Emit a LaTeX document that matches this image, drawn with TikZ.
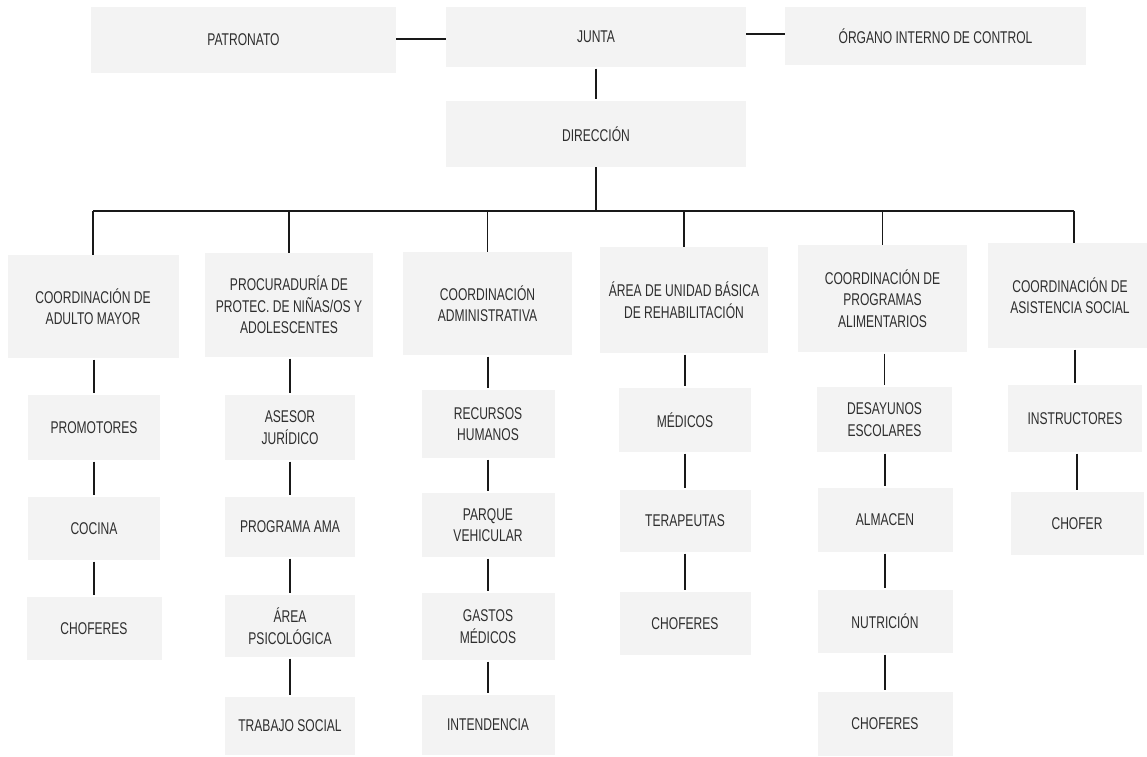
\documentclass[tikz,border=0pt]{standalone}
\usepackage{fontspec}
\setmainfont{Liberation Sans}[FakeStretch=0.71]
\begin{document}
\begin{tikzpicture}[x=1pt,y=-1pt,
  box/.style={draw=none,fill=boxgray,text=txtgray,align=center,inner sep=0pt,
    font=\fontsize{17}{21.5}\selectfont},
  link/.style={line width=1.8pt,draw=black!90,shorten <=1.5pt,shorten >=1.5pt},
  bus/.style={line width=1.8pt,draw=black!90}]
\definecolor{boxgray}{HTML}{F3F3F3}
\definecolor{txtgray}{HTML}{2E2E2E}
\useasboundingbox[fill=white] (0,0) rectangle (1147,756);
% top
\node[box,minimum width=305,minimum height=66] (patronato) at (243.5,40) {PATRONATO};
\node[box,minimum width=300,minimum height=60] (junta) at (596,37) {JUNTA};
\node[box,minimum width=301,minimum height=58] (organo) at (935.5,36) {ÓRGANO INTERNO DE CONTROL};
\node[box,minimum width=300,minimum height=66] (direccion) at (596,134) {DIRECCIÓN};
\draw[bus] (patronato.east |- 0,39) -- (junta.west |- 0,39);
\draw[bus] (junta.east |- 0,34) -- (organo.west |- 0,34);
\draw[link] (junta.south) -- (direccion.north);
% bus
\coordinate (busL) at (93,211);
\coordinate (busR) at (1074,211);
\draw[bus] (direccion.south) -- (direccion.south |- busL);
\draw[bus] (busL) -- (busR);
% column 1
\node[box,minimum width=171,minimum height=103] (c1) at (93,306.5) {COORDINACIÓN DE\\ADULTO MAYOR};
\node[box,minimum width=132,minimum height=65] (c1a) at (94,427.5) {PROMOTORES};
\node[box,minimum width=132,minimum height=63] (c1b) at (94,528.5) {COCINA};
\node[box,minimum width=135,minimum height=63] (c1c) at (94,628.5) {CHOFERES};
% column 2
\node[box,minimum width=168,minimum height=104] (c2) at (289,305) {PROCURADURÍA DE\\PROTEC. DE NIÑAS/OS Y\\ADOLESCENTES};
\node[box,minimum width=130,minimum height=65] (c2a) at (290,427.5) {ASESOR\\JURÍDICO};
\node[box,minimum width=130,minimum height=60] (c2b) at (290,527) {PROGRAMA AMA};
\node[box,minimum width=130,minimum height=62] (c2c) at (290,626) {ÁREA\\PSICOLÓGICA};
\node[box,minimum width=130,minimum height=58] (c2d) at (290,726) {TRABAJO SOCIAL};
% column 3
\node[box,minimum width=169,minimum height=103] (c3) at (487.5,303.5) {COORDINACIÓN\\ADMINISTRATIVA};
\node[box,minimum width=133,minimum height=68] (c3a) at (488,424) {RECURSOS\\HUMANOS};
\node[box,minimum width=133,minimum height=64] (c3b) at (488,525) {PARQUE\\VEHICULAR};
\node[box,minimum width=133,minimum height=67] (c3c) at (488,626.5) {GASTOS\\MÉDICOS};
\node[box,minimum width=133,minimum height=60] (c3d) at (488,725) {INTENDENCIA};
% column 4
\node[box,minimum width=168,minimum height=106] (c4) at (684,300) {ÁREA DE UNIDAD BÁSICA\\DE REHABILITACIÓN};
\node[box,minimum width=132,minimum height=64] (c4a) at (685,420) {MÉDICOS};
\node[box,minimum width=131,minimum height=62] (c4b) at (685,521) {TERAPEUTAS};
\node[box,minimum width=131,minimum height=63] (c4c) at (685,623.5) {CHOFERES};
% column 5
\node[box,minimum width=169,minimum height=107] (c5) at (882.5,298.5) {COORDINACIÓN DE\\PROGRAMAS\\ALIMENTARIOS};
\node[box,minimum width=135,minimum height=65] (c5a) at (884.5,419.5) {DESAYUNOS\\ESCOLARES};
\node[box,minimum width=135,minimum height=64] (c5b) at (885,520) {ALMACEN};
\node[box,minimum width=135,minimum height=63] (c5c) at (885,621.5) {NUTRICIÓN};
\node[box,minimum width=135,minimum height=64] (c5d) at (885,724) {CHOFERES};
% column 6
\node[box,minimum width=164,minimum height=105] (c6) at (1070,295.5) {COORDINACIÓN DE\\ASISTENCIA SOCIAL};
\node[box,minimum width=134,minimum height=67] (c6a) at (1075,418.5) {INSTRUCTORES};
\node[box,minimum width=133,minimum height=63] (c6b) at (1077,523.5) {CHOFER};
% bus drops
\foreach \c in {c1,c2,c3,c4,c5} {\draw[bus] (\c.north |- busL) -- (\c.north);}
\draw[bus] (busR) -- (busR |- c6.north);
% column links
\draw[link] (c1a.north |- c1.south) -- (c1a.north);
\draw[link] (c1b.north |- c1a.south) -- (c1b.north);
\draw[link] (c1c.north |- c1b.south) -- (c1c.north);
\draw[link] (c2a.north |- c2.south) -- (c2a.north);
\draw[link] (c2b.north |- c2a.south) -- (c2b.north);
\draw[link] (c2c.north |- c2b.south) -- (c2c.north);
\draw[link] (c2d.north |- c2c.south) -- (c2d.north);
\draw[link] (c3a.north |- c3.south) -- (c3a.north);
\draw[link] (c3b.north |- c3a.south) -- (c3b.north);
\draw[link] (c3c.north |- c3b.south) -- (c3c.north);
\draw[link] (c3d.north |- c3c.south) -- (c3d.north);
\draw[link] (c4a.north |- c4.south) -- (c4a.north);
\draw[link] (c4b.north |- c4a.south) -- (c4b.north);
\draw[link] (c4c.north |- c4b.south) -- (c4c.north);
\draw[link] (c5a.north |- c5.south) -- (c5a.north);
\draw[link] (c5b.north |- c5a.south) -- (c5b.north);
\draw[link] (c5c.north |- c5b.south) -- (c5c.north);
\draw[link] (c5d.north |- c5c.south) -- (c5d.north);
\draw[link] (c6a.north |- c6.south) -- (c6a.north);
\draw[link] (c6b.north |- c6a.south) -- (c6b.north);
\end{tikzpicture}
\end{document}
